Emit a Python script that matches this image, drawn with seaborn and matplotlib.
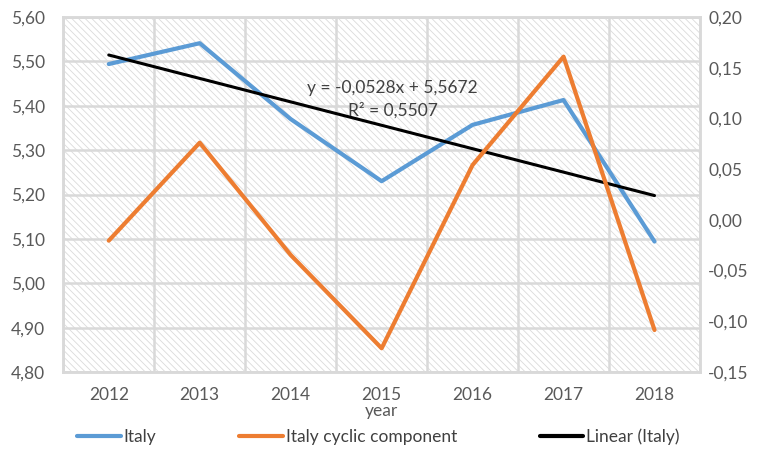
import matplotlib
matplotlib.use("Agg")
import matplotlib.pyplot as plt
from matplotlib.patches import Rectangle
from matplotlib.lines import Line2D
from matplotlib.ticker import FuncFormatter, MultipleLocator
import numpy as np
import pandas as pd
import seaborn as sns

# Data
years = ["2012", "2013", "2014", "2015", "2016", "2017", "2018"]
italy = [5.494, 5.541, 5.370, 5.230, 5.357, 5.413, 5.094]
italy_cyclic = [-0.0205, 0.0761, -0.0346, -0.1266, 0.0541, 0.1609, -0.1086]
trend_slope = -0.0528
trend_intercept = 5.5672
trend_r2 = 0.5507

sns.set_theme(style="white")
plt.rcParams["font.family"] = ["Lato", "DejaVu Sans"]
plt.rcParams["hatch.color"] = "#dadada"
plt.rcParams["hatch.linewidth"] = 0.6

BLUE = "#5b9bd5"
ORANGE = "#ed7d31"
GRID = "#d9d9d9"
TXT = "#595959"
FS = 12.5

W, H = 757, 455
idx = np.arange(len(years))
df = pd.DataFrame({"pos": idx, "year": years, "italy": italy, "cyclic": italy_cyclic})
df["trend"] = trend_intercept + trend_slope * (df["pos"] + 1)

fig = plt.figure(figsize=(W / 100, H / 100), dpi=100)
ax = fig.add_axes([0.0836, 0.1824, 0.8411, 0.7802])
ax2 = ax.twinx()

# hatched plot area
ax.add_patch(Rectangle((0, 0), 1, 1, transform=ax.transAxes, facecolor="white",
                       edgecolor="#dadada", hatch="\\\\\\\\\\", linewidth=0, zorder=0))

sns.lineplot(data=df, x="pos", y="italy", ax=ax, color=BLUE, linewidth=3, zorder=3)
sns.lineplot(data=df, x="pos", y="trend", ax=ax, color="black", linewidth=2.2, zorder=4)
sns.lineplot(data=df, x="pos", y="cyclic", ax=ax2, color=ORANGE, linewidth=3, zorder=3)

ax.set_xlim(-0.5, len(years) - 0.5)
ax.set_ylim(4.80, 5.60)
ax2.set_ylim(-0.15, 0.20)
ax.yaxis.set_major_locator(MultipleLocator(0.10))
ax2.yaxis.set_major_locator(MultipleLocator(0.05))

comma = lambda v, p: f"{v:.2f}".replace(".", ",").replace("-0,00", "0,00")
ax.yaxis.set_major_formatter(FuncFormatter(comma))
ax2.yaxis.set_major_formatter(FuncFormatter(comma))

ax.set_xticks(idx)
ax.set_xticklabels(years)
ax.set_xticks(np.arange(-0.5, len(years), 1.0), minor=True)

ax.grid(False)
ax2.grid(False)
ax.grid(True, which="major", axis="y", color=GRID, linewidth=1.8, zorder=1)
ax.grid(True, which="minor", axis="x", color=GRID, linewidth=1.8, zorder=1)
ax.set_axisbelow(True)

for a in (ax, ax2):
    for s in a.spines.values():
        s.set_color(GRID)
        s.set_linewidth(1.8)
    a.tick_params(which="both", length=0, labelsize=FS, labelcolor=TXT)
ax.tick_params(axis="y", pad=13)
ax2.tick_params(axis="y", pad=6)
ax.tick_params(axis="x", pad=11)

ax.set_xlabel("year", fontsize=FS, color=TXT, labelpad=0)
ax.set_ylabel("")
ax2.set_ylabel("")

ax.text(392 / W, 1 - 88 / H, f"y = {trend_slope:.4f}x + {trend_intercept:.4f}".replace(".", ","),
        transform=fig.transFigure, ha="center", va="center", fontsize=FS, color="#404040", zorder=6)
ax.text(393 / W, 1 - 110 / H, f"R² = {trend_r2:.4f}".replace(".", ","),
        transform=fig.transFigure, ha="center", va="center", fontsize=FS, color="#404040", zorder=6)

handles = [Line2D([], [], color=BLUE, linewidth=3),
           Line2D([], [], color=ORANGE, linewidth=3),
           Line2D([], [], color="black", linewidth=3)]
labels = ["Italy", "Italy cyclic component", "Linear (Italy)"]
fig.legend(handles, labels, loc="center", bbox_to_anchor=(0.5, 1 - 437 / H), ncol=3,
           frameon=False, fontsize=FS, handlelength=2.5, handletextpad=0.15,
           columnspacing=4.8, labelcolor="#404040")

fig.savefig("out.png", dpi=100)
